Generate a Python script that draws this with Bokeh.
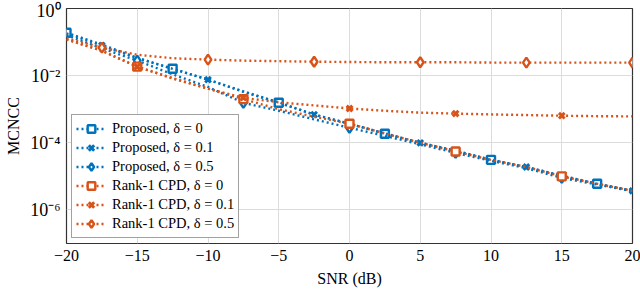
from bokeh.plotting import figure
from bokeh.models import Range1d, FixedTicker, Legend, LegendItem, CustomJSTickFormatter
from bokeh.embed import file_html
from bokeh.resources import INLINE

# ---------------- data ----------------
snr = [-20, -17.5, -15, -12.5, -10, -7.5, -5, -2.5, 0, 2.5, 5, 7.5, 10, 12.5, 15, 17.5, 20]

prop_d0 = [1.9e-1, 8.4e-2, 3.4e-2, 1.6e-2, 7.6e-3, 3.3e-3, 1.56e-3, 6.9e-4, 3.7e-4,
           1.86e-4, 1.0e-4, 5.8e-5, 3.1e-5, 1.9e-5, 1.03e-5, 6.0e-6, 3.7e-6]
prop_d01 = [1.8e-1, 7.9e-2, 3.3e-2, 1.6e-2, 7.6e-3, 3.4e-3, 1.6e-3, 6.9e-4, 3.7e-4,
            1.9e-4, 1.0e-4, 5.7e-5, 3.1e-5, 1.9e-5, 1.05e-5, 6.0e-6, 3.7e-6]
prop_d05 = [1.6e-1, 6.5e-2, 2.8e-2, 1.1e-2, 4.6e-3, 1.55e-3, 9.0e-4, 5.0e-4, 2.8e-4,
            1.6e-4, 9.0e-5, 5.0e-5, 2.9e-5, 1.75e-5, 9.0e-6, 5.7e-6, 3.6e-6]
rank1_d0 = [1.2e-1, 5.5e-2, 1.85e-2, 8.2e-3, 4.1e-3, 2.0e-3, 1.0e-3, 6.0e-4, 3.7e-4,
            1.9e-4, 1.0e-4, 5.5e-5, 3.1e-5, 1.9e-5, 1.0e-5, 6.0e-6, 3.7e-6]
rank1_d01 = [1.2e-1, 5.5e-2, 1.85e-2, 8.5e-3, 4.1e-3, 2.2e-3, 1.6e-3, 1.3e-3, 1.05e-3,
             9.0e-4, 7.9e-4, 7.4e-4, 7.0e-4, 6.7e-4, 6.4e-4, 6.2e-4, 6.1e-4]
rank1_d05 = [1.3e-1, 6.8e-2, 4.2e-2, 3.3e-2, 3.0e-2, 2.8e-2, 2.7e-2, 2.6e-2, 2.55e-2,
             2.5e-2, 2.5e-2, 2.5e-2, 2.45e-2, 2.45e-2, 2.45e-2, 2.45e-2, 2.45e-2]

labels = ["Proposed, δ = 0", "Proposed, δ = 0.1", "Proposed, δ = 0.5",
          "Rank-1 CPD, δ = 0", "Rank-1 CPD, δ = 0.1", "Rank-1 CPD, δ = 0.5"]

x_ticks = [-20, -15, -10, -5, 0, 5, 10, 15, 20]
x_tick_labels = ["−20", "−15", "−10", "−5", "0", "5", "10", "15", "20"]
y_ticks = [1e-6, 1e-4, 1e-2, 1.0]
y_tick_labels = ["10⁻⁶", "10⁻⁴", "10⁻²", "10⁰"]
y_lo, y_hi = 1e-7, 1.0

# ---------------- styling ----------------
BLUE = "#0072BD"
ORANGE = "#D95319"
FONT = "Liberation Serif"

series = [
    (prop_d0, BLUE, "square", 0, 3),
    (prop_d01, BLUE, "x", 1, 3),
    (prop_d05, BLUE, "diamond", 2, 3),
    (rank1_d0, ORANGE, "square", 2, 3),
    (rank1_d01, ORANGE, "x", 2, 3),
    (rank1_d05, ORANGE, "diamond", 1, 3),
]

p = figure(width=640, height=291, y_axis_type="log",
           x_range=Range1d(-20, 20), y_range=Range1d(y_lo, y_hi),
           output_backend="svg", toolbar_location=None,
           min_border_left=66, min_border_right=8, min_border_top=8, min_border_bottom=48)

p.background_fill_color = "white"
p.border_fill_color = "white"
p.outline_line_color = "#333333"
p.outline_line_width = 1.2

p.xaxis.ticker = FixedTicker(ticks=x_ticks, minor_ticks=[])
p.yaxis.ticker = FixedTicker(ticks=y_ticks, minor_ticks=[])
p.xaxis.formatter = CustomJSTickFormatter(args=dict(tvals=x_ticks, tlabs=x_tick_labels), code="""
let best = 0, d = 1e9;
for (let i = 0; i < tvals.length; i++) { const dd = Math.abs(tick - tvals[i]); if (dd < d) { d = dd; best = i; } }
return tlabs[best];""")
p.yaxis.formatter = CustomJSTickFormatter(args=dict(tvals=y_ticks, tlabs=y_tick_labels), code="""
let best = 0, d = 1e9;
for (let i = 0; i < tvals.length; i++) { const dd = Math.abs(Math.log10(tick) - Math.log10(tvals[i])); if (dd < d) { d = dd; best = i; } }
return tlabs[best];""")

for ax in (p.xaxis, p.yaxis):
    ax.axis_line_color = None
    ax.major_tick_line_color = None
    ax.minor_tick_line_color = None
    ax.major_tick_out = 0
    ax.major_tick_in = 0
    ax.minor_tick_out = 0
    ax.minor_tick_in = 0
    ax.major_label_text_font = FONT
    ax.major_label_text_font_size = "16px"
    ax.major_label_text_color = "black"
    ax.axis_label_text_font = FONT
    ax.axis_label_text_font_size = "16px"
    ax.axis_label_text_font_style = "normal"
    ax.axis_label_text_color = "black"
    ax.major_label_standoff = 6

p.yaxis.major_label_text_font_size = "18px"
p.xaxis.axis_label = "SNR (dB)"
p.yaxis.axis_label = "MCNCC"
p.xaxis.axis_label_standoff = 6
p.yaxis.axis_label_standoff = 5

p.xgrid.grid_line_color = "#dcdcdc"
p.ygrid.grid_line_color = "#dcdcdc"
p.xgrid.grid_line_width = 1
p.ygrid.grid_line_width = 1

items = []
for (vals, color, marker, start, step), lab in zip(series, labels):
    l = p.line(snr, vals, line_color=color, line_width=2.4, line_dash="2 3")
    mx = snr[start::step]
    my = vals[start::step]
    if marker == "diamond":
        msize, mlw = 10, 2.4
    elif marker == "x":
        msize, mlw = 8, 3.0
    else:
        msize, mlw = 8, 2.4
    s = p.scatter(mx, my, marker=marker, size=msize, line_color=color,
                  fill_color="white", line_width=mlw)
    items.append(LegendItem(label=lab, renderers=[l, s]))

legend = Legend(items=items, location="bottom_left")
legend.margin = 5
legend.padding = 4
legend.spacing = 0
legend.glyph_width = 30
legend.glyph_height = 19
legend.label_height = 19
legend.label_standoff = 6
legend.label_text_font = FONT
legend.label_text_font_size = "14.5px"
legend.label_text_color = "black"
legend.border_line_color = "#444444"
legend.border_line_width = 1
legend.background_fill_alpha = 1
p.add_layout(legend)

open("out.html", "w").write(file_html(p, INLINE))
